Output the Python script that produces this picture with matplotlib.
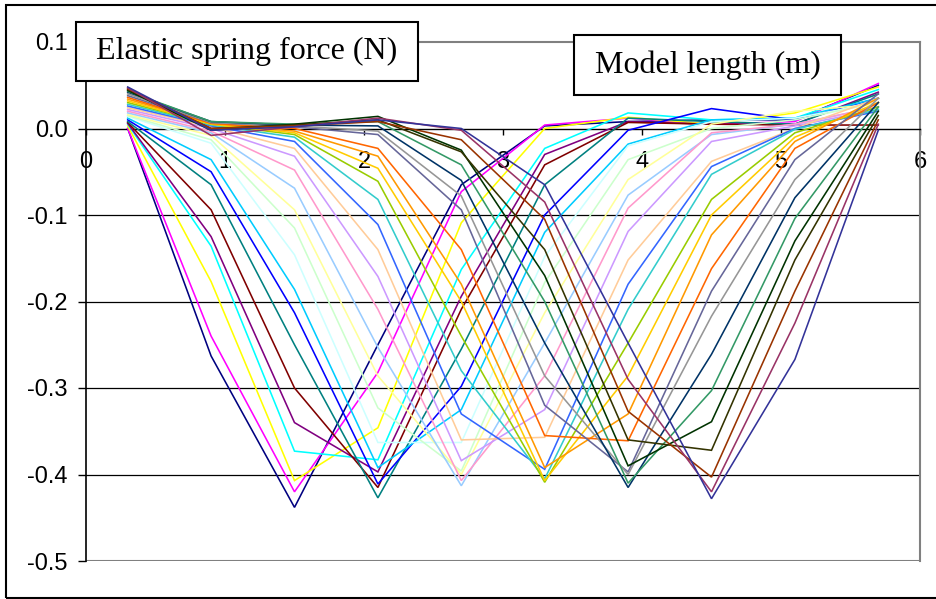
import matplotlib
matplotlib.use("Agg")
import matplotlib.pyplot as plt
from matplotlib.patches import Rectangle

# spring node positions along the model (m)
nodes = [0.3, 0.9, 1.5, 2.1, 2.7, 3.3, 3.9, 4.5, 5.1, 5.7]

# elastic spring force (N) at each node, one list per load step
load_15 = [0.000, -0.263, -0.438, -0.250, -0.065, 0.003, 0.008, 0.010, 0.010, 0.050]
load_16 = [0.000, -0.240, -0.420, -0.282, -0.073, 0.004, 0.012, 0.005, 0.008, 0.052]
load_17 = [0.003, -0.177, -0.407, -0.346, -0.109, 0.000, 0.013, 0.005, 0.018, 0.048]
load_18 = [0.005, -0.136, -0.373, -0.383, -0.163, -0.023, 0.018, 0.010, 0.012, 0.045]
load_19 = [0.006, -0.125, -0.340, -0.397, -0.194, -0.030, 0.008, 0.005, 0.005, 0.042]
load_20 = [0.007, -0.094, -0.300, -0.415, -0.209, -0.042, 0.007, 0.005, 0.004, 0.004]
load_21 = [0.008, -0.065, -0.250, -0.427, -0.255, -0.065, 0.012, 0.008, 0.005, 0.040]
load_22 = [0.010, -0.050, -0.213, -0.411, -0.298, -0.100, -0.002, 0.023, 0.010, 0.035]
load_23 = [0.012, -0.036, -0.186, -0.392, -0.325, -0.120, -0.018, 0.010, 0.012, 0.035]
load_24 = [0.014, -0.017, -0.146, -0.363, -0.363, -0.148, -0.020, 0.008, 0.012, 0.030]
load_25 = [0.015, -0.013, -0.115, -0.323, -0.396, -0.178, -0.036, 0.000, 0.010, 0.030]
load_26 = [0.016, -0.008, -0.094, -0.286, -0.400, -0.213, -0.059, 0.005, 0.020, 0.028]
load_27 = [0.018, -0.005, -0.069, -0.253, -0.413, -0.248, -0.077, -0.007, 0.005, 0.025]
load_28 = [0.020, -0.003, -0.048, -0.209, -0.407, -0.286, -0.092, -0.005, 0.005, 0.025]
load_29 = [0.022, 0.000, -0.032, -0.171, -0.384, -0.325, -0.119, -0.015, 0.003, 0.022]
load_30 = [0.024, 0.002, -0.023, -0.140, -0.360, -0.357, -0.152, -0.038, 0.000, 0.035]
load_31 = [0.026, 0.003, -0.015, -0.111, -0.330, -0.394, -0.180, -0.044, 0.000, 0.020]
load_32 = [0.028, 0.004, -0.010, -0.082, -0.280, -0.405, -0.209, -0.053, -0.001, 0.022]
load_33 = [0.030, 0.005, -0.007, -0.061, -0.240, -0.409, -0.248, -0.082, -0.005, 0.025]
load_34 = [0.032, 0.005, -0.005, -0.046, -0.200, -0.407, -0.286, -0.100, -0.010, 0.030]
load_35 = [0.034, 0.006, -0.003, -0.032, -0.180, -0.392, -0.330, -0.123, -0.015, 0.035]
load_36 = [0.036, 0.006, 0.000, -0.023, -0.140, -0.355, -0.361, -0.162, -0.023, 0.030]
load_37 = [0.038, 0.007, 0.002, -0.007, -0.094, -0.320, -0.397, -0.188, -0.036, 0.040]
load_38 = [0.040, 0.007, 0.003, -0.003, -0.078, -0.286, -0.400, -0.217, -0.059, 0.035]
load_39 = [0.042, 0.008, 0.004, 0.003, -0.060, -0.248, -0.415, -0.261, -0.080, 0.030]
load_40 = [0.043, 0.008, 0.005, 0.008, -0.042, -0.200, -0.410, -0.303, -0.104, 0.025]
load_41 = [0.044, -0.002, 0.005, 0.014, -0.025, -0.170, -0.390, -0.339, -0.130, 0.020]
load_42 = [0.045, 0.000, 0.004, 0.010, -0.027, -0.140, -0.360, -0.372, -0.152, 0.015]
load_43 = [0.046, 0.000, 0.003, 0.008, -0.013, -0.105, -0.327, -0.403, -0.188, 0.010]
load_44 = [0.047, -0.008, 0.002, 0.012, -0.002, -0.085, -0.290, -0.420, -0.225, 0.005]
load_45 = [0.048, -0.002, 0.002, 0.010, 0.000, -0.065, -0.248, -0.428, -0.267, -0.002]

series = [load_15, load_16, load_17, load_18, load_19, load_20, load_21, load_22,
          load_23, load_24, load_25, load_26, load_27, load_28, load_29, load_30,
          load_31, load_32, load_33, load_34, load_35, load_36, load_37, load_38,
          load_39, load_40, load_41, load_42, load_43, load_44, load_45]

# classic spreadsheet line palette
colors = ["#000080", "#FF00FF", "#FFFF00", "#00FFFF", "#800080", "#800000", "#008080",
          "#0000FF", "#00CCFF", "#CCFFFF", "#CCFFCC", "#FFFF99", "#99CCFF", "#FF99CC",
          "#CC99FF", "#FFCC99", "#3366FF", "#33CCCC", "#99CC00", "#FFCC00", "#FF9900",
          "#FF6600", "#666699", "#969696", "#003366", "#339966", "#003300", "#333300",
          "#993300", "#993366", "#333399"]

x_ticks = [0, 1, 2, 3, 4, 5, 6]
y_ticks = [0.1, 0.0, -0.1, -0.2, -0.3, -0.4, -0.5]

W, H = 937, 599
fig = plt.figure(figsize=(W / 100, H / 100), dpi=100)
fig.patch.set_facecolor("white")

# plot area in pixels: left 86, right 920, top 42, bottom 561
ax = fig.add_axes([86 / W, 1 - 561 / H, (920 - 86) / W, (561 - 42) / H])
ax.set_xlim(0, 6)
ax.set_ylim(-0.5, 0.1)

for vals, c in zip(series, colors):
    ax.plot(nodes, vals, color=c, lw=1.15, zorder=3, solid_joinstyle="miter")

for y in y_ticks[2:-1]:
    ax.axhline(y, color="black", lw=0.9, zorder=1)

ax.spines["left"].set_color("black")
ax.spines["left"].set_linewidth(1.2)
for s in ["top", "right"]:
    ax.spines[s].set_color("#808080")
    ax.spines[s].set_linewidth(1.5)
ax.spines["bottom"].set_position(("data", 0))
ax.spines["bottom"].set_color("black")
ax.spines["bottom"].set_linewidth(1.0)
ax.axhline(-0.5, color="#808080", lw=1.5, zorder=2.5)

ax.set_xticks(x_ticks)
ax.set_xticklabels([str(t) for t in x_ticks])
ax.set_yticks(y_ticks)
ax.set_yticklabels([f"{t:.1f}" for t in y_ticks])
ax.tick_params(axis="x", direction="out", length=4.5, width=1.0, pad=12,
               labelsize=17, colors="black")
ax.tick_params(axis="y", direction="out", length=6, width=1.0, pad=7,
               labelsize=17, colors="black")
for lab in ax.get_xticklabels() + ax.get_yticklabels():
    lab.set_fontfamily("Liberation Sans")

# outer chart border
fig.add_artist(Rectangle((6.5 / W, 1.5 / H), 1.0, (599 - 6.5) / H,
                         transform=fig.transFigure, fill=False,
                         edgecolor="black", lw=1.5, zorder=0))


def label_box(x0, y0, x1, y1, text):
    fig.add_artist(Rectangle((x0 / W, 1 - y1 / H), (x1 - x0) / W, (y1 - y0) / H,
                             transform=fig.transFigure, facecolor="white",
                             edgecolor="black", lw=1.5, zorder=5))
    fig.text((x0 + x1) / 2 / W, 1 - (y0 + y1) / 2 / H, text,
             ha="center", va="center", fontsize=23,
             family="Liberation Serif", zorder=6)


label_box(76, 22, 418, 81, "Elastic spring force (N)")
label_box(574, 35, 841, 95, "Model length (m)")

fig.savefig("out.png", dpi=100)
